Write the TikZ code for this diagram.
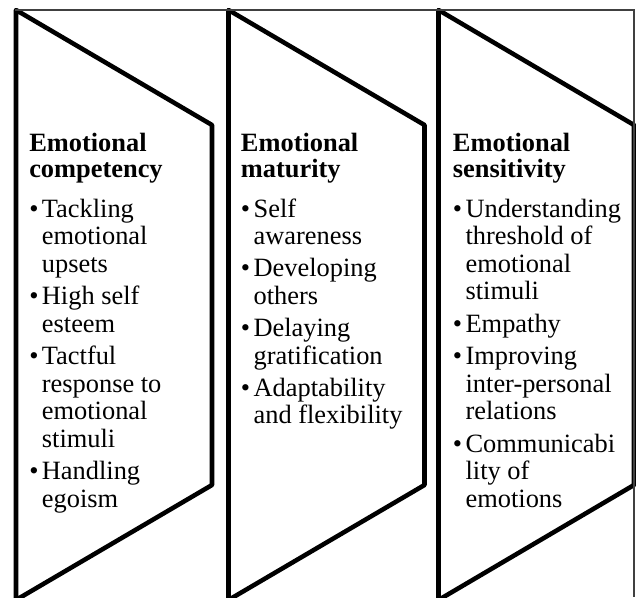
\documentclass[tikz,border=0pt]{standalone}
\usepackage{fontspec}
\setmainfont{Liberation Serif}
% a bullet followed by a left-aligned block of lines, aligned on its first baseline
\newcommand{\bulletlines}[1]{\makebox[9.5pt][l]{\textbullet}\begin{tabular}[t]{@{}l@{}}#1\end{tabular}}
\newcommand{\headlines}[1]{\begin{tabular}[t]{@{}l@{}}#1\end{tabular}}
\begin{document}
\begin{tikzpicture}[x=0.75pt,y=-0.75pt,
  chevron/.style={draw=black,line width=3.4pt,line join=round},
  frameline/.style={draw=black!75,line width=0.8pt},
  head/.style={anchor=base west,inner sep=0pt,font=\fontsize{19.8pt}{19.5pt}\selectfont\bfseries},
  entry/.style={anchor=base west,inner sep=0pt,font=\fontsize{19.8pt}{20.625pt}\selectfont}]
\useasboundingbox (0,0) rectangle (636,597);

% three chevron panels, cut off at the lower edge
\begin{scope}
  \clip (0,0) rectangle (636,597);
  \foreach \l/\r in {16/212, 228.5/424.5, 438.5/634}
    \draw[chevron] (\l,10) -- (\r,125) -- (\r,485) -- (\l,600) -- cycle;
\end{scope}

% thin frame along the top and right side
\draw[frameline] (15,10) -- (634,10) -- (634,597);

% first panel
\node[head]  (h1)  at (29,151)   {\headlines{Emotional\\competency}};
\node[entry] (c1a) at (29,217)   {\bulletlines{Tackling\\emotional\\upsets}};
\node[entry] (c1b) at (29,304.5) {\bulletlines{High self\\esteem}};
\node[entry] (c1c) at (29,364.5) {\bulletlines{Tactful\\response to\\emotional\\stimuli}};
\node[entry] (c1d) at (29,479.5) {\bulletlines{Handling\\egoism}};

% second panel
\node[head]  (h2)  at (240.7,151) {\headlines{Emotional\\maturity}};
\node[entry] (c2a) at (240.7,217) {\bulletlines{Self\\awareness}};
\node[entry] (c2b) at (240.7,276.5) {\bulletlines{Developing\\others}};
\node[entry] (c2c) at (240.7,336.5) {\bulletlines{Delaying\\gratification}};
\node[entry] (c2d) at (240.7,396) {\bulletlines{Adaptability\\and flexibility}};

% third panel
\node[head]  (h3)  at (452.7,151) {\headlines{Emotional\\sensitivity}};
\node[entry] (c3a) at (452.7,217) {\bulletlines{Understanding\\threshold of\\emotional\\stimuli}};
\node[entry] (c3b) at (452.7,332) {\bulletlines{Empathy}};
\node[entry] (c3c) at (452.7,364.5) {\bulletlines{Improving\\inter-personal\\relations}};
\node[entry] (c3d) at (452.7,452) {\bulletlines{Communicabi\\lity of\\emotions}};
\end{tikzpicture}
\end{document}
